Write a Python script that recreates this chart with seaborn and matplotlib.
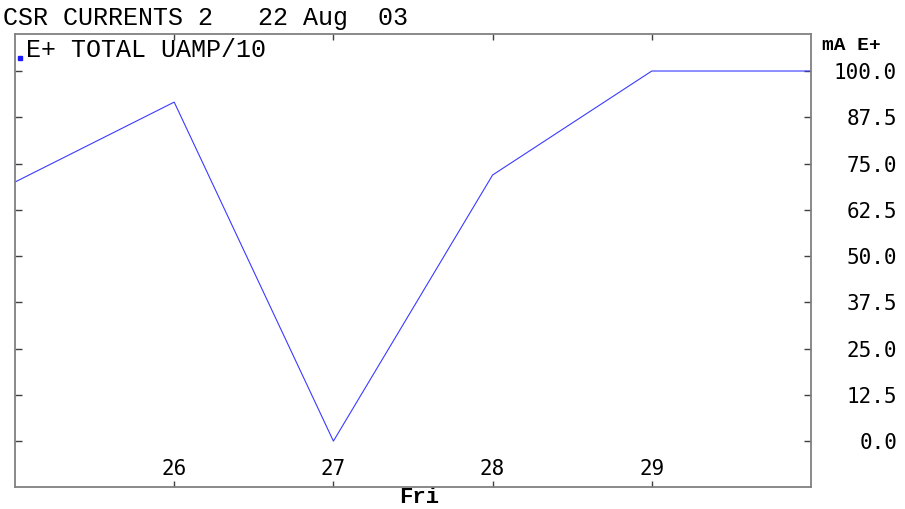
import seaborn as sns
import matplotlib.pyplot as plt
import pandas as pd

# data (day of month vs total current, mA E+)
days = [25.0, 26.0, 27.0, 28.0, 29.0, 30.0]
current = [70.0, 91.6, 0.0, 71.9, 100.0, 100.0]
ytick_vals = [0.0, 12.5, 25.0, 37.5, 50.0, 62.5, 75.0, 87.5, 100.0]
xtick_vals = [26, 27, 28, 29]

df = pd.DataFrame({"day": days, "current": current})

sns.set_style("white")
plt.rcParams["text.color"] = "black"
plt.rcParams["axes.labelcolor"] = "black"
plt.rcParams["xtick.labelcolor"] = "black"
plt.rcParams["ytick.labelcolor"] = "black"
mono = ["Liberation Mono", "DejaVu Sans Mono"]
num_font = ["DejaVu Sans Mono"]

fig = plt.figure(figsize=(9.05, 5.09), dpi=100)
ax = fig.add_axes([15 / 905, 22 / 509, 796 / 905, 453 / 509])

sns.lineplot(data=df, x="day", y="current", ax=ax, color="#3b3bff",
             linewidth=0.8, legend=False)

ax.set_xlim(25, 30)
ax.set_ylim(-12.4, 110)

for s in ax.spines.values():
    s.set_color("#808080")
    s.set_linewidth(1.3)

# y ticks on the right, ticks pointing inward, labels right-aligned
ax.yaxis.tick_right()
ax.set_yticks(ytick_vals)
ax.set_yticklabels([f"{v:.1f}" for v in ytick_vals], fontfamily=num_font,
                   fontsize=15, ha="right", color="black")
ax.tick_params(axis="y", which="both", direction="in", length=5, width=1,
               color="#404040", left=True, right=True, labelleft=False,
               labelright=True, pad=62)

ax.set_xticks(xtick_vals)
ax.set_xticklabels([str(v) for v in xtick_vals], fontfamily=num_font,
                   fontsize=15, color="black")
ax.tick_params(axis="x", direction="in", length=4, width=1, color="#404040",
               top=True, bottom=True, pad=-20)

ax.set_xlabel("Fri", fontfamily=mono, fontsize=16, fontweight="bold",
              color="black")
ax.set_ylabel("")
ax.xaxis.set_label_coords(0.508, -0.023)
ax.xaxis.label.set_va("center")

fig.text(3 / 905, 1 - 18 / 509, "CSR CURRENTS 2   22 Aug  03", fontfamily=mono,
         fontsize=18, va="center", ha="left", color="black")
fig.text(822 / 905, 1 - 45 / 509, "mA E+", fontfamily=mono, fontsize=14,
         fontweight="bold", va="center", ha="left", color="black")

# legend entry: small blue square + label
ax.plot([0.006], [0.947], marker="s", markersize=3.5, color="#1a1aff",
        transform=ax.transAxes, clip_on=False)
ax.text(0.0135, 0.965, "E+ TOTAL UAMP/10", transform=ax.transAxes,
        fontfamily=mono, fontsize=18, va="center", ha="left", color="black")

fig.savefig("out.png", dpi=100)
plt.close(fig)
